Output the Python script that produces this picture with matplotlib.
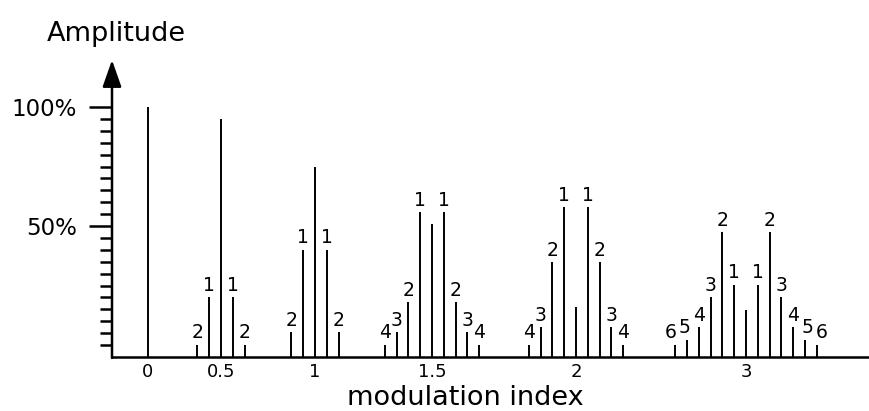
"""
FM spectrum sketch: carrier and sideband amplitudes for several
modulation indices (schematic, sidebands drawn at fixed spacing).
"""

import numpy as np
import matplotlib.pyplot as plt

# modulation indices shown on the x axis
index_labels = ['0', '0.5', '1', '1.5', '2', '3']
# carrier amplitude (%) for each index
carrier = [100, 95, 76, 53, 20, 19]
# sideband amplitudes (%) by order 1, 2, 3 ... (same on both sides)
sidebands = [
    [],
    [24, 5],
    [43, 10],
    [58, 22, 10, 5],
    [60, 38, 12, 5],
    [29, 50, 24, 12, 7, 5],
]

# layout: where each group sits on the schematic axis and sideband spacing
group_x = [36, 109, 203, 320, 464, 634]
spacing = 11.8

fig = plt.figure(figsize=(8.7, 4.11), dpi=100)
ax = fig.add_axes([112 / 870, 1 - 357 / 411, 1 - 112 / 870, (357 - 60) / 411])
ax.set_xlim(0, 758)
ax.set_ylim(0, 297 / 2.5)

lw = 1.4
for gx, c, sb in zip(group_x, carrier, sidebands):
    ax.vlines(gx, 0, c, color='black', lw=lw)
    for order, amp in enumerate(sb, start=1):
        for side in (-1, 1):
            x = gx + side * order * spacing
            ax.vlines(x, 0, amp, color='black', lw=lw)
            # high orders sit close together, nudge their labels outward
            dx = side * max(0, order - 4) * 1.8
            ax.annotate(str(order), (x, amp), xytext=(dx, 1.5),
                        textcoords='offset points', ha='center', va='bottom',
                        fontsize=13.5)

# axes: only the bottom line and an arrowed vertical axis
for s in ('top', 'right', 'left'):
    ax.spines[s].set_visible(False)
ax.spines['bottom'].set_linewidth(1.8)
ax.annotate('', xy=(0, 1), xycoords='axes fraction', xytext=(0, -0.003),
            arrowprops=dict(arrowstyle='-|>,head_length=1.65,head_width=0.58',
                            mutation_scale=10, lw=1.8, color='black',
                            shrinkA=0, shrinkB=0))

# y ticks: 21 equal steps up to 100 %, labels at the 11th and 21st
tick_pos = np.linspace(0, 100, 22)[1:]
ax.set_yticks(tick_pos[[10, 20]])
ax.set_yticklabels(['50%', '100%'], fontsize=16.5)
ax.set_yticks(tick_pos, minor=True)
ax.tick_params(axis='y', which='major', length=16.5, width=1.8, pad=9)
ax.tick_params(axis='y', which='minor', length=8.5, width=1.8)

ax.set_xticks(group_x)
ax.set_xticklabels(index_labels, fontsize=13)
ax.tick_params(axis='x', length=0, pad=4)

fig.text(116 / 870, 1 - 34 / 411, 'Amplitude', ha='center', va='center',
         fontsize=19.5)
fig.text(465 / 870, 1 - 405 / 411, 'modulation index', ha='center',
         va='baseline', fontsize=19.5)

fig.savefig('out.png', dpi=100)
plt.close(fig)
